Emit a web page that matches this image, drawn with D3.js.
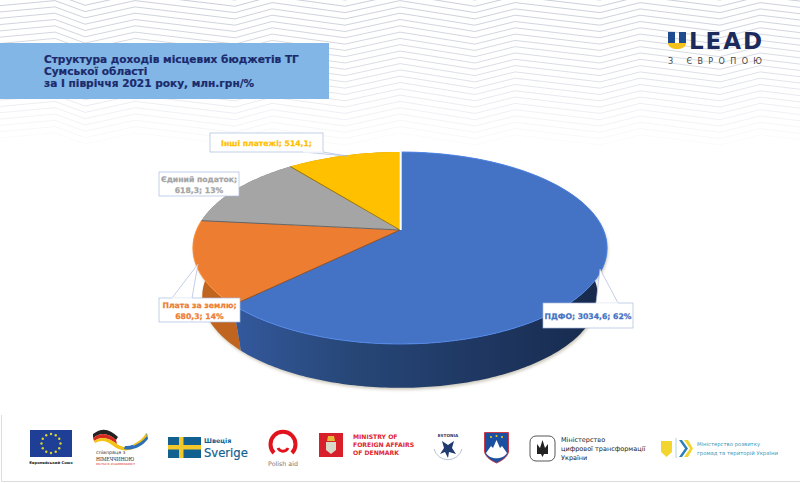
<!DOCTYPE html>
<html>
<head>
<meta charset="utf-8">
<script src="https://cdnjs.cloudflare.com/ajax/libs/d3/7.8.5/d3.min.js"></script>
<style>
  html, body { margin: 0; padding: 0; background: #fff; }
  svg { display: block; }
  text { font-family: "DejaVu Sans", sans-serif; }
</style>
</head>
<body>
<div class="canvas"></div>
<script>
// data
const categories = ["ПДФО", "Плата за землю", "Єдиний податок", "Інші платежі"];
const values = [3034.6, 680.3, 618.3, 514.1];
const valueLabels = ["3034,6", "680,3", "618,3", "514,1"];
const percentLabels = ["62%", "14%", "13%", ""];
const colors = ["#4472c4", "#ed7d31", "#a5a5a5", "#ffc000"];
const wallColors = ["#24416f", "#c0651f", "#7c7c7c", "#bf9000"];

const titleLines = [
  "Структура доходів місцевих бюджетів ТГ",
  "Сумської області",
  "за І півріччя 2021 року, млн.грн/%",
];

const dims = { width: 800, height: 483 };

const svg = d3
  .select(".canvas")
  .append("svg")
  .attr("width", dims.width)
  .attr("height", dims.height);

const defs = svg.append("defs");

// background chevrons
const chevronShape = [
  [-10, 6], [55, 0], [85, 11], [135, 0], [235, 12], [272, 2], [345, 12], [400, 0],
  [475, 12], [515, 2], [600, 12], [640, 2], [720, 12], [760, 2], [810, 8],
];
const chevronColor = d3.scaleLinear().domain([-10, 60, 135]).range(["#b4b8c8", "#ccd0da", "#fafafb"]);
const chevron = d3.line();
svg.append("g")
  .attr("fill", "none")
  .selectAll("path")
  .data(d3.range(-12, 135, 6.3))
  .enter()
  .append("path")
  .attr("d", (y0) => chevron(chevronShape.map(([x, dy]) => [x, y0 + dy])))
  .attr("stroke", (y0) => chevronColor(y0))
  .attr("stroke-width", 0.7);

// title box
svg.append("rect")
  .attr("x", 0).attr("y", 43).attr("width", 329).attr("height", 56)
  .attr("fill", "#82b6e6");
svg.append("g")
  .selectAll("text")
  .data(titleLines)
  .enter()
  .append("text")
  .attr("x", 44)
  .attr("y", (d, i) => 63 + i * 12.2)
  .attr("font-size", 10.55)
  .attr("font-weight", "bold")
  .attr("fill", "#1b2a6b")
  .attr("stroke", "#1b2a6b")
  .attr("stroke-width", 0.2)
  .text((d) => d);

// ULEAD logo
const ulead = svg.append("g");
ulead.append("path").attr("d", "M668 32h7v11h-7z M679 32h7v11h-7z").attr("fill", "#1f4b8f");
ulead.append("path").attr("d", "M668 43h18c0 8-18 8-18 0z").attr("fill", "#f5c21b");
ulead.append("text").attr("x", 689).attr("y", 49).attr("font-size", 23)
  .attr("font-weight", "bold").attr("fill", "#1d2a5c").attr("textLength", 73).text("LEAD");
ulead.append("text").attr("x", 668).attr("y", 63.5).attr("font-size", 8)
  .attr("fill", "#444").attr("textLength", 94).text("З ЄВРОПОЮ");

// pie: angles from d3.pie, drawn on a tilted disc with perspective
const pie = d3.pie().sort(null).value((d) => d.value);
const slices = pie(categories.map((name, i) => ({ name, value: values[i], i })));

const disc = { cx: 400, cy: 230, c: 203.4, a: 92.6, b: 0.1875 };
const projectTop = (t) => {
  const u = Math.sin(t), v = -Math.cos(t), k = 1 - disc.b * v;
  return [disc.cx + (disc.c * u) / k, disc.cy + (disc.a * v) / k];
};
const projectBottom = (t) => {
  const u = Math.sin(t), v = -Math.cos(t), k = 1 - disc.b * v;
  return [disc.cx + (0.955 * disc.c * u) / k, disc.cy + 49 + (0.955 * disc.a * v) / k];
};
const arcPoints = (d, project) => {
  const n = Math.ceil((d.endAngle - d.startAngle) * 60);
  return d3.range(n + 1).map((i) => project(d.startAngle + ((d.endAngle - d.startAngle) * i) / n));
};
const lineGen = d3.line();
const topFace = (d) => lineGen([[disc.cx, disc.cy], ...arcPoints(d, projectTop)]) + "Z";
const wall = (d) =>
  lineGen([...arcPoints(d, projectTop), ...arcPoints(d, projectBottom).reverse()]) + "Z";

// soft shadow under the disc
const blur = defs.append("filter").attr("id", "blur");
blur.append("feGaussianBlur").attr("stdDeviation", 1.8);
svg.append("path")
  .attr("d", wall({ startAngle: 0, endAngle: 2 * Math.PI }))
  .attr("transform", "translate(1,2)")
  .attr("fill", "#cfcabd")
  .attr("filter", "url(#blur)");

// wall shading, the blue wall darkens to the right
const blueWall = defs.append("linearGradient").attr("id", "blueWall")
  .attr("gradientUnits", "userSpaceOnUse").attr("x1", 240).attr("x2", 600).attr("y1", 0).attr("y2", 0);
[[0, "#33589b"], [0.3, "#274778"], [0.7, "#1e3660"], [1, "#172a4c"]].forEach(([o, c]) =>
  blueWall.append("stop").attr("offset", o).attr("stop-color", c));

const pieGroup = svg.append("g");
pieGroup.selectAll("path.wall")
  .data(slices.slice().reverse())
  .enter()
  .append("path")
  .attr("class", "wall")
  .attr("d", wall)
  .attr("fill", (d) => (d.index === 0 ? "url(#blueWall)" : wallColors[d.index]));

pieGroup.selectAll("path.top")
  .data(slices)
  .enter()
  .append("path")
  .attr("class", "top")
  .attr("d", topFace)
  .attr("fill", (d) => colors[d.index]);

// lighter bevel along the front rim
pieGroup.selectAll("path.rim")
  .data(slices.slice(0, 2))
  .enter()
  .append("path")
  .attr("class", "rim")
  .attr("d", (d) => lineGen(arcPoints(d, projectTop)))
  .attr("fill", "none")
  .attr("stroke", (d) => d3.color(colors[d.index]).brighter(0.5))
  .attr("stroke-width", 1);

// dark seams between slices, white gap between the first and the last one
pieGroup.selectAll("path.seam")
  .data(slices.slice(0, 3))
  .enter()
  .append("path")
  .attr("class", "seam")
  .attr("d", (d) => lineGen([[disc.cx, disc.cy], projectTop(d.endAngle)]))
  .attr("stroke", (d) => d3.color(colors[d.index + 1]).darker(1.6))
  .attr("stroke-width", 0.9);
pieGroup.append("path")
  .attr("d", lineGen([[disc.cx + 0.7, disc.cy], [projectTop(slices[0].startAngle)[0] + 0.7, projectTop(slices[0].startAngle)[1] - 1]]))
  .attr("stroke", "#fff")
  .attr("stroke-width", 2);

// labels with leader callouts
const labelBoxes = [
  { x: 543, y: 303, w: 90, h: 25, anchor: [600, 269], base: [[596, 303], [618, 303]] },
  { x: 159, y: 298, w: 81, h: 24, anchor: [198, 264], base: [[172, 298], [192, 298]] },
  { x: 159, y: 172, w: 80, h: 24, anchor: null },
  { x: 210, y: 133, w: 113, h: 19, anchor: [347, 156], base: [[303, 152], [323, 152]] },
];
const labelLines = [
  [`${categories[0]}; ${valueLabels[0]}; ${percentLabels[0]}`],
  [`${categories[1]};`, `${valueLabels[1]}; ${percentLabels[1]}`],
  [`${categories[2]};`, `${valueLabels[2]}; ${percentLabels[2]}`],
  [`${categories[3]}; ${valueLabels[3]};`],
];
const labels = svg.append("g");
labelBoxes.forEach((box, i) => {
  const g = labels.append("g");
  if (box.anchor) {
    g.append("path")
      .attr("d", lineGen([box.base[0], box.anchor, box.base[1]]) + "Z")
      .attr("fill", "#fff")
      .attr("stroke", "#a9b9dc")
      .attr("stroke-width", 0.7);
  }
  g.append("rect")
    .attr("x", box.x).attr("y", box.y).attr("width", box.w).attr("height", box.h)
    .attr("fill", "#fff")
    .attr("stroke", "#a9b9dc")
    .attr("stroke-width", 0.7);
  if (box.base) {
    g.append("path")
      .attr("d", lineGen(box.base))
      .attr("stroke", "#fff")
      .attr("stroke-width", 1.4);
  }
  const lines = labelLines[i];
  const y0 = box.y + box.h / 2 + 3 - ((lines.length - 1) * 11) / 2;
  lines.forEach((t, j) => {
    g.append("text")
      .attr("x", box.x + box.w / 2)
      .attr("y", y0 + j * 11)
      .attr("text-anchor", "middle")
      .attr("font-size", 7.7)
      .attr("font-weight", "bold")
      .attr("fill", colors[i])
      .attr("stroke", colors[i])
      .attr("stroke-width", 0.25)
      .text(t);
  });
});

// footer logos
const footer = svg.append("g");
footer.append("path").attr("d", "M1.5 415V481.5H800").attr("fill", "none").attr("stroke", "#dcdcdc");

// EU
footer.append("rect").attr("x", 30).attr("y", 430).attr("width", 42).attr("height", 27).attr("fill", "#1f3f97");
d3.range(12).forEach((i) => {
  const t = (i * Math.PI) / 6;
  footer.append("circle").attr("cx", 51 + 9.5 * Math.cos(t)).attr("cy", 443.5 + 9.5 * Math.sin(t))
    .attr("r", 1.2).attr("fill", "#d9d62c");
});
footer.append("text").attr("x", 51).attr("y", 464).attr("text-anchor", "middle")
  .attr("font-size", 3.8).attr("font-weight", "bold").attr("fill", "#222").text("Європейський Союз");

// Germany / Ukraine
footer.append("path").attr("d", "M93 434C102 427 110 429 118 437L116 440C108 433 101 432 93 438Z").attr("fill", "#222");
footer.append("path").attr("d", "M93 438C101 432 108 433 116 440L117 444C108 437 101 436 94 441Z").attr("fill", "#d52b1e");
footer.append("path").attr("d", "M94 441C101 436 108 437 117 444C124 449 131 447 136 444L133 449C125 452 118 450 112 445C106 440 100 440 95 443Z").attr("fill", "#f3c316");
footer.append("path").attr("d", "M125 446C133 447 142 441 147 433L148 439C142 447 132 451 124 449Z").attr("fill", "#2d6fb8");
footer.append("path").attr("d", "M134 444C140 441 144 437 146 433L147 436C143 441 138 444 133 446Z").attr("fill", "#f3c316");
footer.append("text").attr("x", 96).attr("y", 454).attr("font-size", 4.8).attr("fill", "#333").text("співпраця з");
footer.append("text").attr("x", 96).attr("y", 460.5).attr("font-size", 5.4).attr("fill", "#333")
  .style("font-family", '"Liberation Serif", serif').text("НІМЕЧЧИНОЮ");
footer.append("text").attr("x", 96).attr("y", 465).attr("font-size", 2.6).attr("fill", "#d52b1e").attr("textLength", 39).text("DEUTSCHE ZUSAMMENARBEIT");

// Sweden
footer.append("rect").attr("x", 168).attr("y", 437).attr("width", 33).attr("height", 21).attr("fill", "#11608f");
footer.append("rect").attr("x", 179).attr("y", 437).attr("width", 4.5).attr("height", 21).attr("fill", "#f3c82b");
footer.append("rect").attr("x", 168).attr("y", 445).attr("width", 33).attr("height", 4.5).attr("fill", "#f3c82b");
footer.append("text").attr("x", 204).attr("y", 443).attr("font-size", 6.4).attr("font-weight", "bold").attr("fill", "#11608f").text("Швеція");
footer.append("text").attr("x", 204).attr("y", 457).attr("font-size", 11.6).attr("stroke", "#11608f").attr("stroke-width", 0.2).attr("fill", "#11608f").text("Sverige");

// Polish aid
footer.append("path").attr("d", "M274 453A12.5 12.5 0 1 1 292 453").attr("fill", "none").attr("stroke", "#e1141e").attr("stroke-width", 4);
footer.append("path").attr("d", "M278 448A5.5 5.5 0 0 0 288 448").attr("fill", "none").attr("stroke", "#e1141e").attr("stroke-width", 3);
footer.append("text").attr("x", 283).attr("y", 465.5).attr("text-anchor", "middle").attr("font-size", 6.3).attr("fill", "#777").text("Polish aid");

// Denmark
footer.append("rect").attr("x", 319).attr("y", 433).attr("width", 24).attr("height", 24).attr("fill", "#d8202a");
footer.append("path").attr("d", "M328 436H334L335 441H327Z").attr("fill", "#e7b83a");
footer.append("path").attr("d", "M326 442H336V450L331 454L326 450Z").attr("fill", "#d9d9c8");
footer.append("g").selectAll("text").data(["MINISTRY OF", "FOREIGN AFFAIRS", "OF DENMARK"]).enter().append("text")
  .attr("x", 353).attr("y", (d, i) => 439 + i * 8).attr("font-size", 6.1).attr("font-weight", "bold")
  .attr("fill", "#e1252f").text((d) => d);

// Estonia
footer.append("path").attr("d", "M442 441L448 445L454 441L452 448L456 454L449 452L448 458L445 452L440 454L444 448Z").attr("fill", "#1f3b70");
footer.append("path").attr("d", "M434 449A14.5 14.5 0 0 0 462 449").attr("fill", "none").attr("stroke", "#b7c3d6").attr("stroke-width", 1);
footer.append("text").attr("x", 448).attr("y", 437).attr("text-anchor", "middle").attr("font-size", 4.2).attr("font-weight", "bold").attr("fill", "#1f3b70").text("ESTONIA");

// Slovenia
footer.append("path").attr("d", "M484.5 432.5H508.5V452C507 458 500 461.5 496.5 463C493 461.5 486 458 484.5 452Z").attr("fill", "#1b4fa0").attr("stroke", "#d2303a").attr("stroke-width", 0.9);
footer.append("path").attr("d", "M486 453L491 446L493 448L496.5 440L500 448L502 446L507 453C503 460 490 460 486 453Z").attr("fill", "#fff");
footer.append("circle").attr("cx", 496.5).attr("cy", 436).attr("r", 1).attr("fill", "#f2d21c");
footer.append("circle").attr("cx", 491).attr("cy", 437).attr("r", 1).attr("fill", "#f2d21c");
footer.append("circle").attr("cx", 502).attr("cy", 437).attr("r", 1).attr("fill", "#f2d21c");

// digital transformation ministry
footer.append("rect").attr("x", 530).attr("y", 436).attr("width", 25).attr("height", 25).attr("rx", 6).attr("fill", "#fff").attr("stroke", "#444").attr("stroke-width", 0.9);
footer.append("path").attr("d", "M542.5 440L545 448L548 444V454H544L542.5 457L541 454H537V444L540 448Z").attr("fill", "#222");
footer.append("g").selectAll("text").data(["Міністерство", "цифрової трансформації", "України"]).enter().append("text")
  .attr("x", 561).attr("y", (d, i) => 442 + i * 9).attr("font-size", 6.5).attr("fill", "#222").text((d) => d);

// communities ministry
footer.append("path").attr("d", "M661 441H672V452L666.5 457L661 452Z").attr("fill", "#f2d52e");
footer.append("path").attr("d", "M676 438V458").attr("stroke", "#9cc6d8").attr("stroke-width", 0.8);
footer.append("path").attr("d", "M679 440L685 448.5L679 457H682L688 448.5L682 440Z").attr("fill", "#2d7fb8");
footer.append("path").attr("d", "M684 440L690 448.5L684 457H688L693 448.5L688 440Z").attr("fill", "#f2d52e");
footer.append("g").selectAll("text").data(["Міністерство розвитку", "громад та територій України"]).enter().append("text")
  .attr("x", 697).attr("y", (d, i) => 446 + i * 8.5).attr("font-size", 5.3).attr("fill", "#3b97b8").text((d) => d);
</script>
</body>
</html>
